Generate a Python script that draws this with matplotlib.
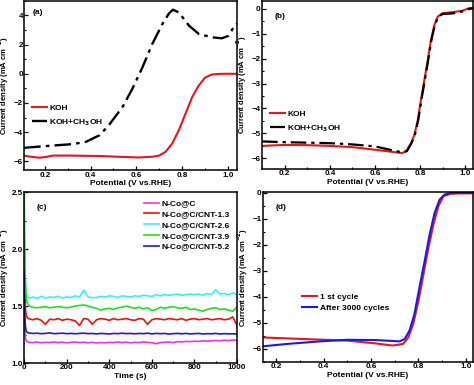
import matplotlib
matplotlib.use("Agg")
import matplotlib.pyplot as plt
from matplotlib.ticker import MultipleLocator

plt.rcParams["font.family"] = ["Liberation Sans", "DejaVu Sans"]
plt.rcParams["font.weight"] = "bold"
plt.rcParams["mathtext.default"] = "bf"

# (a) LSV in KOH vs KOH+CH3OH
a_koh_x = [0.11, 0.14, 0.178, 0.21, 0.236, 0.3, 0.44, 0.52, 0.61, 0.67, 0.70, 0.728, 0.757,
           0.786, 0.815, 0.844, 0.873, 0.90, 0.93, 0.96, 1.0, 1.04]
a_koh_y = [-5.61, -5.68, -5.75, -5.68, -5.6, -5.6, -5.63, -5.68, -5.73, -5.68, -5.6, -5.34, -4.77,
           -3.86, -2.73, -1.6, -0.8, -0.27, -0.05, -0.01, 0.0, 0.0]
a_meoh_x = [0.11, 0.22, 0.32, 0.38, 0.44, 0.48, 0.54, 0.583, 0.627, 0.67, 0.714, 0.743, 0.76,
            0.786, 0.83, 0.873, 0.93, 0.974, 1.003, 1.025, 1.04]
a_meoh_y = [-5.07, -4.93, -4.82, -4.66, -4.2, -3.52, -2.27, -1.02, 0.45, 2.05, 3.41, 4.14, 4.39,
            4.2, 3.3, 2.73, 2.5, 2.43, 2.6, 3.18, 3.45]

# (b) LSV, methanol tolerance
b_koh_x = [0.1, 0.2, 0.3, 0.4, 0.5, 0.605, 0.694, 0.72, 0.738, 0.76, 0.775, 0.79, 0.804, 0.819,
           0.834, 0.848, 0.863, 0.878, 0.9, 0.944, 0.988, 1.017, 1.035]
b_koh_y = [-5.51, -5.47, -5.48, -5.51, -5.56, -5.67, -5.77, -5.8, -5.73, -5.4, -5.07, -4.47, -3.67,
           -2.87, -2.07, -1.27, -0.67, -0.31, -0.17, -0.13, -0.07, 0.03, 0.04]
b_meoh_x = [0.1, 0.2, 0.3, 0.4, 0.5, 0.6, 0.694, 0.72, 0.742, 0.762, 0.777, 0.792, 0.806, 0.821,
            0.836, 0.85, 0.865, 0.88, 0.9, 0.944, 0.988, 1.017, 1.035]
b_meoh_y = [-5.33, -5.36, -5.38, -5.4, -5.45, -5.53, -5.72, -5.77, -5.72, -5.4, -5.07, -4.47, -3.67,
            -2.87, -2.07, -1.27, -0.67, -0.33, -0.2, -0.18, -0.1, 0.0, 0.03]

# (c) chronoamperometry
c_time = [0, 2, 4, 6, 8, 10, 14, 20, 30,
          40, 60, 80, 100, 120, 140, 160,
          180, 200, 220, 240, 260, 280, 300,
          320, 340, 360, 380, 400, 420, 440,
          460, 480, 500, 520, 540, 560, 580,
          600, 620, 640, 660, 680, 700, 720,
          740, 760, 780, 800, 820, 840, 860,
          880, 900, 920, 940, 960, 980, 1000]
c_labels = ["N-Co@C", "N-Co@C/CNT-1.3", "N-Co@C/CNT-2.6", "N-Co@C/CNT-3.9", "N-Co@C/CNT-5.2"]
c_nco = [1.6, 1.36, 1.27, 1.225, 1.205, 1.195, 1.188, 1.183, 1.18,
         1.18, 1.185, 1.178, 1.182, 1.18, 1.185, 1.18,
         1.183, 1.178, 1.182, 1.185, 1.18, 1.183, 1.178,
         1.182, 1.176, 1.18, 1.178, 1.182, 1.18, 1.185,
         1.18, 1.183, 1.178, 1.182, 1.18, 1.185, 1.182,
         1.178, 1.17, 1.18, 1.183, 1.185, 1.18, 1.188,
         1.185, 1.19, 1.188, 1.192, 1.19, 1.195, 1.192,
         1.195, 1.198, 1.196, 1.2, 1.198, 1.202, 1.2]
c_cnt13 = [2.0, 1.72, 1.56, 1.48, 1.44, 1.42, 1.4, 1.39, 1.385,
           1.38, 1.39, 1.375, 1.34, 1.385, 1.38, 1.39,
           1.375, 1.385, 1.38, 1.37, 1.33, 1.39, 1.385,
           1.34, 1.38, 1.39, 1.385, 1.375, 1.39, 1.38,
           1.385, 1.39, 1.38, 1.375, 1.39, 1.385, 1.34,
           1.38, 1.39, 1.385, 1.38, 1.39, 1.385, 1.38,
           1.39, 1.375, 1.385, 1.39, 1.38, 1.385, 1.39,
           1.38, 1.385, 1.39, 1.38, 1.385, 1.405, 1.33]
c_cnt26 = [2.25, 1.95, 1.78, 1.69, 1.64, 1.61, 1.59, 1.575, 1.57,
           1.58, 1.565, 1.585, 1.57, 1.58, 1.575, 1.585,
           1.57, 1.58, 1.575, 1.59, 1.58, 1.64, 1.58,
           1.575, 1.575, 1.585, 1.58, 1.59, 1.585, 1.575,
           1.59, 1.585, 1.58, 1.59, 1.585, 1.595, 1.59,
           1.585, 1.6, 1.59, 1.6, 1.595, 1.6, 1.605,
           1.595, 1.6, 1.605, 1.6, 1.605, 1.595, 1.61,
           1.6, 1.645, 1.605, 1.61, 1.6, 1.615, 1.6]
c_cnt39 = [2.55, 2.1, 1.85, 1.7, 1.62, 1.57, 1.53, 1.51, 1.495,
           1.49, 1.485, 1.49, 1.495, 1.485, 1.49, 1.495,
           1.49, 1.485, 1.49, 1.5, 1.505, 1.51, 1.5,
           1.49, 1.48, 1.465, 1.475, 1.48, 1.47, 1.485,
           1.49, 1.5, 1.49, 1.48, 1.49, 1.475, 1.485,
           1.46, 1.47, 1.49, 1.48, 1.49, 1.495, 1.485,
           1.48, 1.49, 1.47, 1.475, 1.465, 1.455, 1.47,
           1.48, 1.485, 1.47, 1.475, 1.465, 1.455, 1.49]
c_cnt52 = [1.8, 1.5, 1.38, 1.32, 1.295, 1.28, 1.27, 1.265, 1.262,
           1.26, 1.262, 1.258, 1.26, 1.265, 1.258, 1.26,
           1.262, 1.258, 1.26, 1.257, 1.26, 1.262, 1.258,
           1.26, 1.256, 1.26, 1.258, 1.255, 1.26, 1.258,
           1.262, 1.258, 1.26, 1.257, 1.26, 1.258, 1.262,
           1.256, 1.26, 1.258, 1.26, 1.255, 1.258, 1.26,
           1.257, 1.26, 1.256, 1.258, 1.26, 1.255, 1.258,
           1.257, 1.26, 1.255, 1.258, 1.256, 1.257, 1.255]
c_colors = ["#ee33ee", "#ee1111", "#33f2f2", "#22dd22", "#1a1ae6"]

# (d) stability, before/after cycling
d_first_x = [0.145, 0.315, 0.5, 0.62, 0.69, 0.735, 0.757, 0.778, 0.8, 0.821, 0.842, 0.863, 0.884,
             0.905, 0.933, 0.97, 1.03]
d_first_y = [-5.56, -5.62, -5.68, -5.79, -5.87, -5.81, -5.56, -5.04, -4.15, -3.13, -2.11, -1.21,
             -0.51, -0.13, -0.04, -0.02, -0.02]
d_after_x = [0.145, 0.245, 0.386, 0.5, 0.62, 0.72, 0.742, 0.762, 0.783, 0.804, 0.826, 0.847, 0.868,
             0.889, 0.91, 0.94, 1.03]
d_after_y = [-5.9, -5.81, -5.71, -5.65, -5.66, -5.71, -5.62, -5.3, -4.66, -3.64, -2.62, -1.6, -0.77,
             -0.26, -0.06, 0.0, 0.0]

RED = "#e8151b"
fs = 6.0
ylab = "Current density (mA cm$^{-2}$)"
leg_kw = dict(frameon=False, prop={"weight": "bold", "size": fs}, handlelength=1.8,
              handletextpad=0.3, labelspacing=0.6)

fig = plt.figure(figsize=(4.74, 3.85), dpi=100)
ax_a = fig.add_axes([0.051, 0.558, 0.449, 0.44])
ax_b = fig.add_axes([0.553, 0.561, 0.445, 0.437])
ax_c = fig.add_axes([0.051, 0.057, 0.449, 0.444])
ax_d = fig.add_axes([0.555, 0.06, 0.443, 0.441])


def style(ax, xmaj, xmin, ymaj, ymin):
    ax.xaxis.set_major_locator(MultipleLocator(xmaj))
    ax.xaxis.set_minor_locator(MultipleLocator(xmin))
    ax.yaxis.set_major_locator(MultipleLocator(ymaj))
    ax.yaxis.set_minor_locator(MultipleLocator(ymin))
    ax.tick_params(which="major", direction="in", length=3, width=0.9, labelsize=5.8, pad=1)
    ax.tick_params(which="minor", direction="in", length=1.6, width=0.8)
    for s in ax.spines.values():
        s.set_linewidth(1.1)
    ax.set_ylabel(ylab, fontsize=5.5, fontweight="bold")
    ax.yaxis.set_label_coords(-0.062, 0.5)


ax_a.plot(a_koh_x, a_koh_y, color=RED, lw=1.5, label="KOH")
ax_a.plot(a_meoh_x, a_meoh_y, color="black", lw=1.7, dashes=(7, 2.2, 1.5, 2.2), label="KOH+CH$_3$OH")
ax_a.set_xlim(0.11, 1.04)
ax_a.set_ylim(-6.6, 5.0)
style(ax_a, 0.2, 0.1, 2, 1)
ax_a.set_xlabel("Potential (V vs.RHE)", fontsize=fs, fontweight="bold", labelpad=1)
ax_a.text(0.04, 0.95, "(a)", transform=ax_a.transAxes, fontsize=fs, fontweight="bold", va="top")
ax_a.legend(loc="center left", bbox_to_anchor=(0.0, 0.32), **leg_kw)

ax_b.plot(b_koh_x, b_koh_y, color=RED, lw=1.5, label="KOH")
ax_b.plot(b_meoh_x, b_meoh_y, color="black", lw=1.6, dashes=(7, 2.2, 1.5, 2.2), label="KOH+CH$_3$OH")
ax_b.set_xlim(0.1, 1.035)
ax_b.set_ylim(-6.44, 0.33)
style(ax_b, 0.2, 0.1, 1, 0.5)
ax_b.set_xlabel("Potential (V vs.RHE)", fontsize=fs, fontweight="bold", labelpad=1)
ax_b.text(0.06, 0.93, "(b)", transform=ax_b.transAxes, fontsize=fs, fontweight="bold", va="top")
ax_b.legend(loc="center left", bbox_to_anchor=(0.0, 0.28), **leg_kw)

for series, lab, col in zip([c_nco, c_cnt13, c_cnt26, c_cnt39, c_cnt52], c_labels, c_colors):
    ax_c.plot(c_time, series, color=col, lw=1.2, label=lab)
ax_c.set_xlim(0, 1000)
ax_c.set_ylim(1.0, 2.5)
style(ax_c, 200, 100, 0.5, 0.25)
ax_c.set_xlabel("Time (s)", fontsize=fs, fontweight="bold", labelpad=1)
ax_c.text(0.06, 0.93, "(c)", transform=ax_c.transAxes, fontsize=fs, fontweight="bold", va="top")
ax_c.legend(loc="upper right", bbox_to_anchor=(1.0, 1.0), **dict(leg_kw, labelspacing=0.35))

ax_d.plot(d_first_x, d_first_y, color=RED, lw=1.5, label="1 st cycle")
ax_d.plot(d_after_x, d_after_y, color="#1a1ae6", lw=1.5, label="After 3000 cycles")
ax_d.set_xlim(0.145, 1.03)
ax_d.set_ylim(-6.5, 0.03)
style(ax_d, 0.2, 0.1, 1, 0.5)
ax_d.set_xlabel("Potential (V vs.RHE)", fontsize=fs, fontweight="bold", labelpad=1)
ax_d.text(0.06, 0.93, "(d)", transform=ax_d.transAxes, fontsize=fs, fontweight="bold", va="top")
ax_d.legend(loc="center left", bbox_to_anchor=(0.15, 0.35), **dict(leg_kw, labelspacing=0.3))

fig.savefig("out.png", dpi=100)
